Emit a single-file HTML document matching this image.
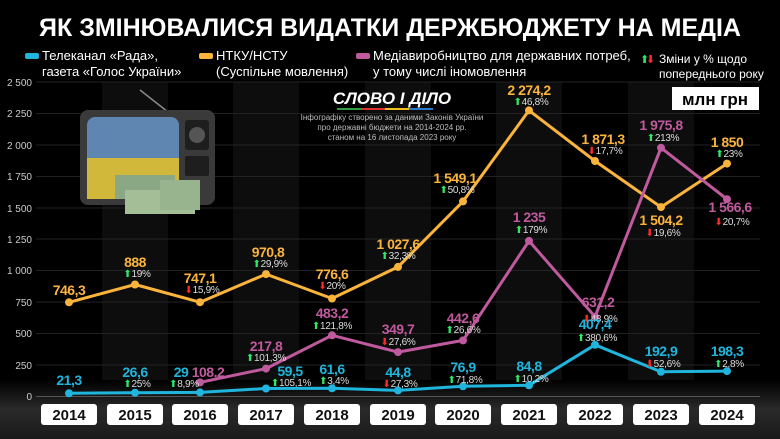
<!DOCTYPE html>
<html><head><meta charset="utf-8"><style>
body{margin:0;background:#000;}
svg{display:block;font-family:"Liberation Sans",sans-serif;}
.v{font-family:"Liberation Sans Narrow","Liberation Sans",sans-serif;font-weight:bold;font-size:14px;text-anchor:middle;letter-spacing:-0.5px}
.p{font-family:"Liberation Sans Narrow","Liberation Sans",sans-serif;font-size:10px;fill:#ddd;text-anchor:middle;letter-spacing:-0.3px}
.t{font-size:10px;fill:#ccc;text-anchor:end}
.y{font-weight:bold;font-size:15px;text-anchor:middle;fill:#111}
.o{fill:#fbb43b}.b{fill:#1fb5dc}.k{fill:#c05a9e}
.g{fill:#2ee86a}.r{fill:#ff2a2a}
</style></head><body>
<svg width="780" height="439" viewBox="0 0 780 439">
<defs><linearGradient id="bt" x1="0" y1="0" x2="0" y2="1"><stop offset="0" stop-color="#000"/><stop offset="0.5" stop-color="#2a2a2a"/><stop offset="1" stop-color="#1a1a1a"/></linearGradient></defs>
<rect width="780" height="439" fill="#000"/>
<g fill="#0d0d0d">
<rect x="102" y="82" width="66" height="314"/><rect x="233" y="82" width="66" height="314"/><rect x="365" y="82" width="66" height="314"/><rect x="496" y="82" width="66" height="314"/><rect x="628" y="82" width="66" height="314"/>
</g>
<rect x="0" y="380" width="780" height="59" fill="url(#bt)"/>
<rect x="36" y="396" width="724" height="1" fill="#555"/>
<g stroke="#222" stroke-width="1">
<line x1="36" y1="82" x2="760" y2="82"/><line x1="36" y1="113.5" x2="760" y2="113.5"/><line x1="36" y1="145" x2="760" y2="145"/><line x1="36" y1="176.5" x2="760" y2="176.5"/><line x1="36" y1="208" x2="760" y2="208"/><line x1="36" y1="239" x2="760" y2="239"/><line x1="36" y1="270.5" x2="760" y2="270.5"/><line x1="36" y1="302" x2="760" y2="302"/><line x1="36" y1="333.5" x2="760" y2="333.5"/><line x1="36" y1="365" x2="760" y2="365"/>
</g>
<g class="t">
<text x="32" y="86">2 500</text><text x="32" y="117">2 250</text><text x="32" y="149">2 000</text><text x="32" y="180">1 750</text><text x="32" y="212">1 500</text><text x="32" y="243">1 250</text><text x="32" y="274">1 000</text><text x="32" y="306">750</text><text x="32" y="337">500</text><text x="32" y="369">250</text><text x="32" y="400">0</text>
</g>
<text x="390" y="36" text-anchor="middle" fill="#fff" font-weight="bold" font-size="25">ЯК ЗМІНЮВАЛИСЯ ВИДАТКИ ДЕРЖБЮДЖЕТУ НА МЕДІА</text>
<rect x="25" y="53" width="14" height="6" rx="2" fill="#1fb5dc"/>
<text x="42" y="60" fill="#fff" font-size="13">Телеканал «Рада»,</text>
<text x="42" y="76" fill="#fff" font-size="13">газета «Голос України»</text>
<rect x="199" y="53" width="14" height="6" rx="2" fill="#fbb43b"/>
<text x="216" y="60" fill="#fff" font-size="13">НТКУ/НСТУ</text>
<text x="216" y="76" fill="#fff" font-size="13">(Суспільне мовлення)</text>
<rect x="356" y="53" width="14" height="6" rx="2" fill="#c05a9e"/>
<text x="373" y="60" fill="#fff" font-size="13">Медіавиробництво для державних потреб,</text>
<text x="373" y="76" fill="#fff" font-size="13">у тому числі іномовлення</text>
<text x="640" y="63" class="g" font-size="11">⬆</text><text x="646" y="63" class="r" font-size="11">⬇</text>
<text x="659" y="63" fill="#fff" font-size="12">Зміни у % щодо</text>
<text x="659" y="78" fill="#fff" font-size="12">попереднього року</text>
<rect x="672" y="87" width="87" height="23" fill="#fff"/>
<text x="715" y="105" text-anchor="middle" font-weight="bold" font-size="17" fill="#000">млн грн</text>
<text x="392" y="104" text-anchor="middle" fill="#fff" font-weight="bold" font-style="italic" font-size="17">СЛОВО І ДІЛО</text>
<rect x="337" y="108" width="24" height="2" fill="#2ea043"/><rect x="361" y="108" width="24" height="2" fill="#e03030"/><rect x="385" y="108" width="24" height="2" fill="#f0c020"/><rect x="409" y="108" width="24" height="2" fill="#2a7ad0"/>
<g fill="#bbb" font-size="8" text-anchor="middle"><text x="392" y="120">Інфографіку створено за даними Законів України</text><text x="392" y="130">про державні бюджети на 2014-2024 рр.</text><text x="392" y="140">станом на 16 листопада 2023 року</text></g>
<!-- TV -->
<line x1="140" y1="90" x2="168" y2="112" stroke="#888" stroke-width="1.5"/>
<rect x="80" y="110" width="135" height="95" rx="8" fill="#3a3a3a"/>
<rect x="87" y="117" width="92" height="82" rx="8" fill="#5f86b0"/>
<rect x="87" y="158" width="92" height="41" fill="#d1b83a"/>
<rect x="185" y="120" width="24" height="30" rx="3" fill="#1e1e1e"/>
<circle cx="197" cy="135" r="8" fill="#555"/>
<rect x="185" y="156" width="24" height="20" rx="2" fill="#1e1e1e"/>
<rect x="115" y="175" width="60" height="24" fill="#8aa884"/>
<rect x="125" y="190" width="70" height="24" fill="#a4bf98"/>
<rect x="160" y="180" width="40" height="30" fill="#98b48e"/>
<g fill="none" stroke-width="3" stroke-linejoin="round">
<polyline stroke="#fbb43b" points="69,302.3 135,284.5 200,302.2 266,274.1 332,298.5 398,266.9 463,201.4 529,110.4 595,161 661,207.1 727,163.6"/>
<polyline stroke="#c05a9e" points="200,382.4 266,368.6 332,335.3 398,352.1 463,340.4 529,240.9 595,316.7 661,147.8 727,199.2"/>
<polyline stroke="#1fb5dc" points="69,393.3 135,392.7 200,392.4 266,388.5 332,388.3 398,390.4 463,386.3 529,385.3 595,344.8 661,371.8 727,371.1"/>
</g>
<g class="o"><circle cx="69" cy="302.3" r="4"/><circle cx="135" cy="284.5" r="4"/><circle cx="200" cy="302.2" r="4"/><circle cx="266" cy="274.1" r="4"/><circle cx="332" cy="298.5" r="4"/><circle cx="398" cy="266.9" r="4"/><circle cx="463" cy="201.4" r="4"/><circle cx="529" cy="110.4" r="4"/><circle cx="595" cy="161" r="4"/><circle cx="661" cy="207.1" r="4"/><circle cx="727" cy="163.6" r="4"/></g>
<g class="k"><circle cx="200" cy="382.4" r="4"/><circle cx="266" cy="368.6" r="4"/><circle cx="332" cy="335.3" r="4"/><circle cx="398" cy="352.1" r="4"/><circle cx="463" cy="340.4" r="4"/><circle cx="529" cy="240.9" r="4"/><circle cx="595" cy="316.7" r="4"/><circle cx="661" cy="147.8" r="4"/><circle cx="727" cy="199.2" r="4"/></g>
<g class="b"><circle cx="69" cy="393.3" r="4"/><circle cx="135" cy="392.7" r="4"/><circle cx="200" cy="392.4" r="4"/><circle cx="266" cy="388.5" r="4"/><circle cx="332" cy="388.3" r="4"/><circle cx="398" cy="390.4" r="4"/><circle cx="463" cy="386.3" r="4"/><circle cx="529" cy="385.3" r="4"/><circle cx="595" cy="344.8" r="4"/><circle cx="661" cy="371.8" r="4"/><circle cx="727" cy="371.1" r="4"/></g>
<g transform="translate(0,-4)">
<g class="v o">
<text x="69" y="299">746,3</text><text x="135" y="271">888</text><text x="200" y="287">747,1</text><text x="268" y="261">970,8</text><text x="332" y="283">776,6</text><text x="398" y="253">1 027,6</text><text x="455" y="187">1 549,1</text><text x="529" y="99">2 274,2</text><text x="603" y="148">1 871,3</text><text x="661" y="229">1 504,2</text><text x="727" y="151">1 850</text>
</g>
<g class="p">
<text x="137" y="281"><tspan class="g">⬆</tspan>19%</text><text x="202" y="297"><tspan class="r">⬇</tspan>15,9%</text><text x="270" y="271"><tspan class="g">⬆</tspan>29,9%</text><text x="332" y="293"><tspan class="r">⬇</tspan>20%</text><text x="398" y="263"><tspan class="g">⬆</tspan>32,3%</text><text x="457" y="197"><tspan class="g">⬆</tspan>50,8%</text><text x="531" y="109"><tspan class="g">⬆</tspan>46,8%</text><text x="605" y="158"><tspan class="r">⬇</tspan>17,7%</text><text x="663" y="240"><tspan class="r">⬇</tspan>19,6%</text><text x="729" y="161"><tspan class="g">⬆</tspan>23%</text>
</g>
<g class="v k">
<text x="208" y="381">108,2</text><text x="266" y="355">217,8</text><text x="332" y="322">483,2</text><text x="398" y="338">349,7</text><text x="463" y="327">442,6</text><text x="529" y="226">1 235</text><text x="598" y="311">631,2</text><text x="661" y="134">1 975,8</text><text x="730" y="216">1 566,6</text>
</g>
<g class="p">
<text x="266" y="365"><tspan class="g">⬆</tspan>101,3%</text><text x="332" y="333"><tspan class="g">⬆</tspan>121,8%</text><text x="398" y="349"><tspan class="r">⬇</tspan>27,6%</text><text x="463" y="337"><tspan class="g">⬆</tspan>26,6%</text><text x="531" y="237"><tspan class="g">⬆</tspan>179%</text><text x="600" y="326"><tspan class="r">⬇</tspan>48,9%</text><text x="663" y="145"><tspan class="g">⬆</tspan>213%</text><text x="732" y="229"><tspan class="r">⬇</tspan>20,7%</text>
</g>
<g class="v b">
<text x="69" y="389">21,3</text><text x="135" y="381">26,6</text><text x="181" y="381">29</text><text x="290" y="380">59,5</text><text x="332" y="378">61,6</text><text x="398" y="381">44,8</text><text x="463" y="376">76,9</text><text x="529" y="375">84,8</text><text x="595" y="333">407,4</text><text x="661" y="360">192,9</text><text x="727" y="360">198,3</text>
</g>
<g class="p">
<text x="137" y="391"><tspan class="g">⬆</tspan>25%</text><text x="184" y="391"><tspan class="g">⬆</tspan>8,9%</text><text x="291" y="390"><tspan class="g">⬆</tspan>105,1%</text><text x="334" y="388"><tspan class="g">⬆</tspan>3,4%</text><text x="400" y="391"><tspan class="r">⬇</tspan>27,3%</text><text x="465" y="387"><tspan class="g">⬆</tspan>71,8%</text><text x="531" y="386"><tspan class="g">⬆</tspan>10,2%</text><text x="597" y="345"><tspan class="g">⬆</tspan>380,6%</text><text x="663" y="371"><tspan class="r">⬇</tspan>52,6%</text><text x="729" y="371"><tspan class="g">⬆</tspan>2,8%</text>
</g>
</g>
<g fill="#fff">
<rect x="41" y="404" width="56" height="21" rx="3"/><rect x="107" y="404" width="56" height="21" rx="3"/><rect x="172" y="404" width="56" height="21" rx="3"/><rect x="238" y="404" width="56" height="21" rx="3"/><rect x="304" y="404" width="56" height="21" rx="3"/><rect x="370" y="404" width="56" height="21" rx="3"/><rect x="435" y="404" width="56" height="21" rx="3"/><rect x="501" y="404" width="56" height="21" rx="3"/><rect x="567" y="404" width="56" height="21" rx="3"/><rect x="633" y="404" width="56" height="21" rx="3"/><rect x="699" y="404" width="56" height="21" rx="3"/>
</g>
<g class="y">
<text x="69" y="420">2014</text><text x="135" y="420">2015</text><text x="200" y="420">2016</text><text x="266" y="420">2017</text><text x="332" y="420">2018</text><text x="398" y="420">2019</text><text x="463" y="420">2020</text><text x="529" y="420">2021</text><text x="595" y="420">2022</text><text x="661" y="420">2023</text><text x="727" y="420">2024</text>
</g>
</svg>
</body></html>
